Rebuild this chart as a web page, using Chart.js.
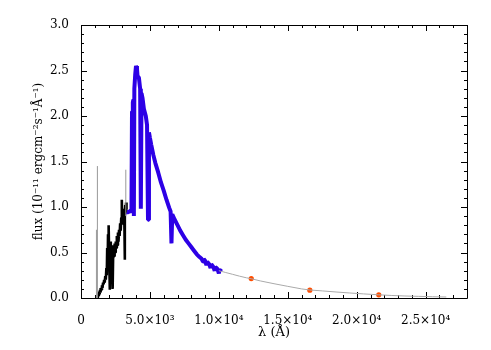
<!DOCTYPE html>
<html>
<head>
<meta charset="utf-8">
<script src="https://cdn.jsdelivr.net/npm/chart.js@4/dist/chart.umd.min.js"></script>
<style>
  html, body { margin: 0; padding: 0; background: #fff; }
</style>
</head>
<body>
<canvas id="sed-chart" width="491" height="350"></canvas>
<script>
// UV spectrum (black)
const uvWave = [1180, 1200, 1230, 1260, 1290, 1320, 1350, 1380, 1410, 1440, 1480, 1520, 1560, 1600, 1640, 1680,
    1720, 1760, 1800, 1840, 1870, 1900, 1930, 1960, 1990, 2020, 2050, 2080, 2100, 2130, 2160, 2190,
    2220, 2250, 2280, 2310, 2330, 2360, 2400, 2440, 2480, 2520, 2560, 2600, 2640, 2680, 2720, 2760,
    2800, 2840, 2880, 2920, 2960, 2990, 3020, 3060, 3100, 3140, 3170, 3190, 3210, 3240, 3270, 3300];
const uvFlux = [0.0, 0.03, 0.0, 0.05, 0.02, 0.07, 0.04, 0.09, 0.06, 0.11, 0.09, 0.14, 0.11, 0.17, 0.15, 0.2,
    0.17, 0.24, 0.2, 0.33, 0.25, 0.55, 0.3, 0.7, 0.35, 0.8, 0.4, 0.55, 0.09, 0.45, 0.62, 0.38,
    0.5, 0.42, 0.58, 0.1, 0.45, 0.55, 0.46, 0.6, 0.5, 0.62, 0.55, 0.68, 0.58, 0.72, 0.62, 0.75,
    0.68, 0.82, 0.74, 0.88, 1.08, 0.82, 0.93, 0.86, 0.98, 0.9, 0.42, 0.92, 1.02, 0.94, 1.05, 0.97];

// isolated grey spikes in the UV data
const spikeWave = [1120, 1190, 3250];
const spikeLow = [0.0, 0.0, 0.9];
const spikeHigh = [0.75, 1.45, 1.41];

// optical spectrum (blue)
const optWave = [3300, 3380, 3460, 3540, 3620, 3660, 3700, 3760, 3800, 3835, 3870, 3930, 3990, 4060, 4100, 4200,
    4290, 4340, 4390, 4460, 4560, 4700, 4790, 4861, 4930, 5000, 5100, 5250, 5400, 5600, 5800, 6000,
    6200, 6400, 6500, 6563, 6620, 6800, 7000, 7200, 7400, 7600, 7800, 8000, 8200, 8400, 8600, 8750,
    8850, 8900, 9000, 9100, 9150, 9300, 9400, 9450, 9600, 9700, 9750, 9900, 10000, 10050, 10200];
const optFlux = [0.95, 0.93, 0.96, 0.94, 0.97, 0.95, 2.05, 2.15, 2.18, 0.9, 2.3, 2.45, 2.55, 2.52, 2.44, 2.42,
    2.3, 0.98, 2.25, 2.2, 2.08, 2.0, 1.9, 0.86, 1.82, 1.76, 1.68, 1.57, 1.48, 1.38, 1.27, 1.18,
    1.08, 0.99, 0.95, 0.6, 0.92, 0.86, 0.8, 0.74, 0.69, 0.64, 0.6, 0.56, 0.52, 0.48, 0.45, 0.43,
    0.4, 0.43, 0.41, 0.36, 0.4, 0.37, 0.33, 0.37, 0.34, 0.3, 0.34, 0.32, 0.27, 0.31, 0.29];

// model continuation (thin grey)
const modelWave = [10000, 10500, 11000, 11500, 12000, 12350, 13000, 14000, 15000, 16000, 16600, 17500, 18500,
    19500, 20500, 21600, 22500, 23500, 24500, 25500, 26500];
const modelFlux = [0.3, 0.28, 0.26, 0.24, 0.222, 0.212, 0.188, 0.157, 0.128, 0.1, 0.088, 0.078, 0.066,
    0.055, 0.045, 0.035, 0.028, 0.022, 0.018, 0.014, 0.011];

// photometry (orange)
const photWave = [12350, 16600, 21600];
const photFlux = [0.214, 0.086, 0.035];

const xTickValues = [0, 5000, 10000, 15000, 20000, 25000];
const xTickLabels = ['0', '5.0×10³', '1.0×10⁴', '1.5×10⁴', '2.0×10⁴', '2.5×10⁴'];
const yTickValues = [0, 0.5, 1.0, 1.5, 2.0, 2.5, 3.0];
const yTickLabels = ['0.0', '0.5', '1.0', '1.5', '2.0', '2.5', '3.0'];

const toPoints = (xs, ys) => xs.map((x, i) => ({ x: x, y: ys[i] }));

const spikePoints = [];
spikeWave.forEach((w, i) => {
    spikePoints.push({ x: w, y: spikeLow[i] }, { x: w, y: spikeHigh[i] }, { x: w, y: null });
});

const labelFor = (values, labels, v, tol) => {
    const i = values.findIndex(t => Math.abs(t - v) < tol);
    return i >= 0 ? labels[i] : '';
};

const font = { family: 'DejaVu Serif', size: 12 };

// IDL style box with inward ticks on all four sides
const frameTicks = {
    id: 'frameTicks',
    beforeDatasetsDraw(chart) {
        const { ctx, chartArea: a, scales: { x, y } } = chart;
        ctx.save();
        ctx.strokeStyle = '#000';
        ctx.lineWidth = 1;
        ctx.beginPath();
        ctx.rect(Math.round(a.left) + 0.5, Math.round(a.top) + 0.5,
            Math.round(a.right - a.left), Math.round(a.bottom - a.top));
        x.ticks.forEach(t => {
            const px = Math.round(x.getPixelForValue(t.value)) + 0.5;
            const len = t.label ? 6 : 3;
            ctx.moveTo(px, a.bottom); ctx.lineTo(px, a.bottom - len);
            ctx.moveTo(px, a.top); ctx.lineTo(px, a.top + len);
        });
        y.ticks.forEach(t => {
            const py = Math.round(y.getPixelForValue(t.value)) + 0.5;
            const len = t.label ? 6 : 3;
            ctx.moveTo(a.left, py); ctx.lineTo(a.left + len, py);
            ctx.moveTo(a.right, py); ctx.lineTo(a.right - len, py);
        });
        ctx.stroke();
        ctx.restore();
    }
};

const lineStyle = { pointRadius: 0, tension: 0, borderJoinStyle: 'bevel', spanGaps: false };

new Chart(document.getElementById('sed-chart').getContext('2d'), {
    type: 'line',
    data: {
        datasets: [
            Object.assign({ label: 'model', data: toPoints(modelWave, modelFlux), borderColor: '#aaaaaa', borderWidth: 1 }, lineStyle),
            Object.assign({ label: 'uv spikes', data: spikePoints, borderColor: '#999999', borderWidth: 1 }, lineStyle),
            Object.assign({ label: 'uv', data: toPoints(uvWave, uvFlux), borderColor: '#000000', borderWidth: 2.6 }, lineStyle),
            Object.assign({ label: 'optical', data: toPoints(optWave, optFlux), borderColor: '#2d00e6', borderWidth: 4 }, lineStyle),
            {
                label: 'photometry',
                data: toPoints(photWave, photFlux),
                showLine: false,
                pointRadius: 2.6,
                pointBackgroundColor: '#ff4d00',
                pointBorderColor: '#ff4d00',
                pointBorderWidth: 0
            }
        ]
    },
    options: {
        responsive: false,
        animation: false,
        events: [],
        layout: { padding: { left: 0, right: 24, top: 25, bottom: 0 } },
        plugins: {
            legend: { display: false },
            title: { display: false },
            tooltip: { enabled: false }
        },
        scales: {
            x: {
                type: 'linear',
                min: 0,
                max: 28000,
                grid: { display: false },
                border: { display: false },
                ticks: {
                    stepSize: 1000,
                    maxTicksLimit: 100,
                    autoSkip: false,
                    maxRotation: 0,
                    padding: 8,
                    color: '#000',
                    font: font,
                    callback: v => labelFor(xTickValues, xTickLabels, v, 1)
                },
                title: { display: true, text: 'λ (Å)', color: '#000', font: { family: 'DejaVu Serif', size: 13 }, padding: { top: 0, bottom: 10 } },
                afterFit: s => { s.height = 52; }
            },
            y: {
                type: 'linear',
                min: 0,
                max: 3,
                grid: { display: false },
                border: { display: false },
                ticks: {
                    stepSize: 0.1,
                    maxTicksLimit: 100,
                    autoSkip: false,
                    padding: 4,
                    color: '#000',
                    font: font,
                    callback: v => labelFor(yTickValues, yTickLabels, v, 0.001)
                },
                title: { display: true, text: 'flux (10⁻¹¹ ergcm⁻²s⁻¹Å⁻¹)', color: '#000', font: font, padding: { top: 32, bottom: 0 } },
                afterFit: s => { s.width = 81; }
            }
        }
    },
    plugins: [frameTicks]
});
</script>
</body>
</html>
